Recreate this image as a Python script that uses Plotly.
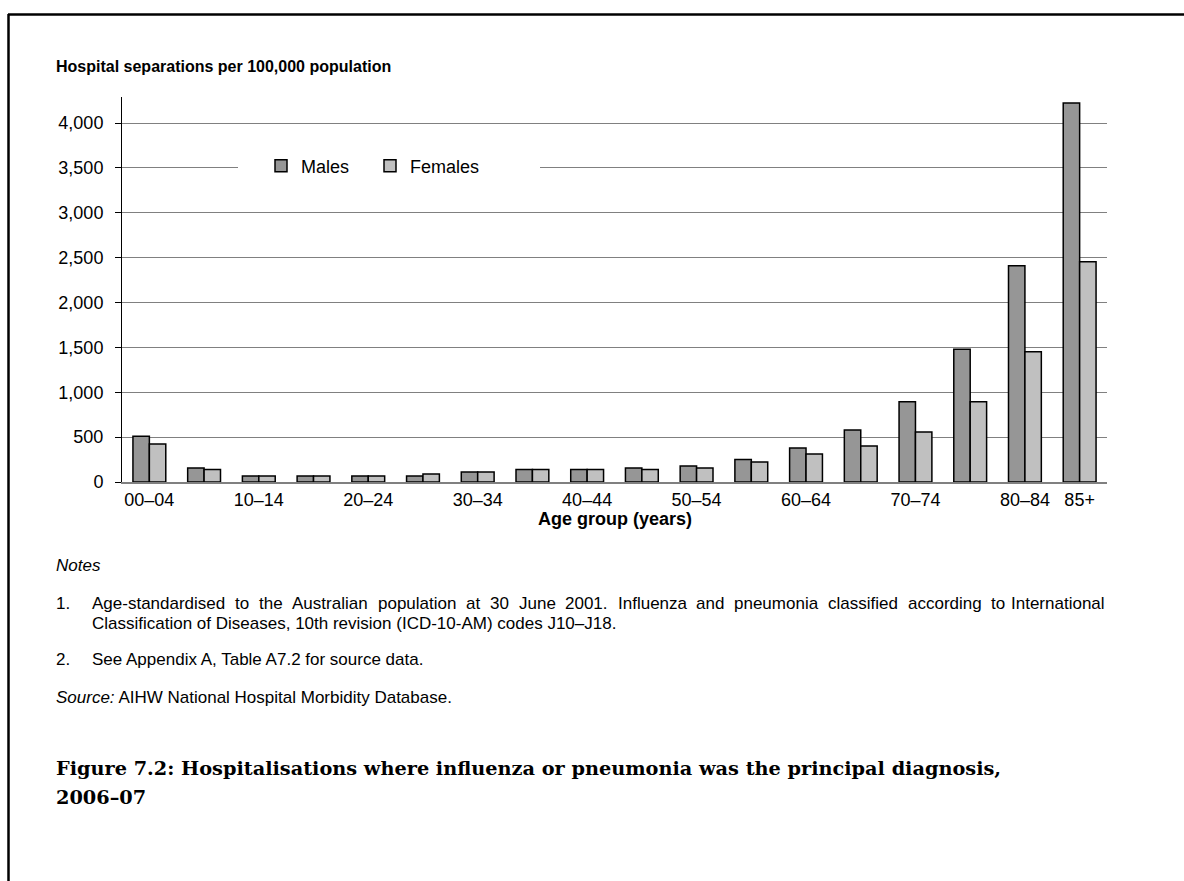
import plotly.graph_objects as go

categories = ["00–04", "05–09", "10–14", "15–19", "20–24", "25–29", "30–34", "35–39",
              "40–44", "45–49", "50–54", "55–59", "60–64", "65–69", "70–74", "75–79",
              "80–84", "85+"]
males = [510, 156, 67, 67, 67, 67, 112, 138, 138, 156, 178, 250, 379, 580, 893, 1478, 2411, 4223]
females = [424, 138, 67, 67, 67, 89, 112, 138, 138, 138, 156, 223, 312, 402, 558, 893, 1451, 2455]
tick_labels = ["00–04", "10–14", "20–24", "30–34", "40–44", "50–54", "60–64", "70–74", "80–84", "85+"]
tick_positions = ["00–04", "10–14", "20–24", "30–34", "40–44", "50–54", "60–64", "70–74", "80–84", "85+"]
y_ticks = [0, 500, 1000, 1500, 2000, 2500, 3000, 3500, 4000]

note1_line1 = ("Age-standardised to the Australian population at 30 June 2001. Influenza and "
               "pneumonia classified according to International")
note1_line2 = "Classification of Diseases, 10th revision (ICD-10-AM) codes J10–J18."
note2 = "See Appendix A, Table A7.2 for source data."
source_text = "AIHW National Hospital Morbidity Database."
caption_line1 = "Figure 7.2: Hospitalisations where influenza or pneumonia was the principal diagnosis,"
caption_line2 = "2006–07"

W, H = 1184, 881
L, R, T, B = 122, 1107, 97, 482  # plot area pixel bounds

def px(x):
    return (x - L) / (R - L)

def py(y):
    return (B - y) / (B - T)

FONT = "Liberation Sans, Arial, sans-serif"
SERIF = "DejaVu Serif, Liberation Serif, serif"
NOTE = 17

# Arial / Liberation Sans advance widths (per 1000 em) used to justify a text line
ARIAL = {' ': 278, '-': 333, '.': 278, ',': 278, '(': 333, ')': 333, '–': 556}
ARIAL.update({d: 556 for d in "0123456789"})
ARIAL.update(dict(zip("ABCDEFGHIJKLMNOPQRSTUVWXYZ",
                      [667, 667, 722, 722, 667, 611, 778, 722, 278, 500, 667, 556, 833,
                       722, 778, 667, 778, 722, 667, 611, 722, 667, 944, 667, 667, 611])))
ARIAL.update(dict(zip("abcdefghijklmnopqrstuvwxyz",
                      [556, 556, 500, 556, 556, 278, 556, 556, 222, 222, 500, 222, 833,
                       556, 556, 556, 556, 333, 500, 278, 556, 500, 722, 500, 500, 500])))

def text_width(s, size):
    return sum(ARIAL.get(c, 556) for c in s) * size / 1000.0

fig = go.Figure()
fig.add_trace(go.Bar(x=categories, y=males, name="Males",
                     marker=dict(color="#969696", line=dict(color="black", width=1.5))))
fig.add_trace(go.Bar(x=categories, y=females, name="Females",
                     marker=dict(color="#c0c0c0", line=dict(color="black", width=1.5))))

def note(text, x, y, size=NOTE, anchor="left"):
    return dict(text=text, x=px(x), y=py(y), xanchor=anchor, yanchor="middle",
                font=dict(size=size, color="black", family=FONT))

annotations = [
    dict(text="<b>Hospital separations per 100,000 population</b>", x=px(54), y=py(67),
         xanchor="left", yanchor="middle", font=dict(size=16, color="black", family=FONT)),
    dict(text="<b>Age group (years)</b>", x=0.5, y=py(519), xanchor="center", yanchor="middle",
         font=dict(size=18, color="black", family=FONT)),
    note("<i>Notes</i>", 54, 565),
    note("1.", 54, 603),
    note(note1_line2, 90, 623),
    note("2.", 54, 659),
    note(note2, 90, 659),
    note("<i>Source:</i> " + source_text, 54, 697),
    dict(text="<b>" + caption_line1 + "</b>", x=px(54), y=py(768), xanchor="left", yanchor="middle",
         font=dict(size=19.3, color="black", family=SERIF)),
    dict(text="<b>" + caption_line2 + "</b>", x=px(54), y=py(797), xanchor="left", yanchor="middle",
         font=dict(size=19.3, color="black", family=SERIF)),
]

# justified first line of note 1 (spans from x=90 to x=1107)
words = note1_line1.split(" ")
x_start, x_end = 90, 1107
natural = sum(text_width(w, NOTE) for w in words)
gap = (x_end - x_start - natural) / (len(words) - 1)
xpos = x_start
for i, w in enumerate(words):
    if i == len(words) - 1:
        annotations.append(note(w, x_end, 603, anchor="right"))
    else:
        annotations.append(note(w, xpos, 603))
    xpos += text_width(w, NOTE) + gap

for a in annotations:
    a.update(xref="paper", yref="paper", showarrow=False)

shapes = [
    # outer frame (top and left edges)
    dict(type="line", xref="paper", yref="paper", x0=px(8), x1=px(1184), y0=py(14.5), y1=py(14.5),
         line=dict(color="black", width=2.5)),
    dict(type="line", xref="paper", yref="paper", x0=px(8.5), x1=px(8.5), y0=py(14), y1=py(885),
         line=dict(color="black", width=2.5)),
    # white legend background interrupting the gridline
    dict(type="rect", xref="paper", yref="paper", x0=px(238), x1=px(540), y0=py(158), y1=py(176),
         fillcolor="white", line=dict(width=0), layer="above"),
]

fig.update_layout(
    width=W, height=H,
    margin=dict(l=L, r=W - R, t=T, b=H - B, pad=0),
    paper_bgcolor="white", plot_bgcolor="white",
    barmode="group", bargap=0.4, bargroupgap=0,
    font=dict(family=FONT, color="black", size=18),
    showlegend=True,
    legend=dict(orientation="h", x=px(261), y=py(166), xanchor="left", yanchor="middle",
                bgcolor="rgba(0,0,0,0)", borderwidth=0, font=dict(size=18, family=FONT),
                entrywidth=64, entrywidthmode="pixels", itemwidth=30, traceorder="normal"),
    xaxis=dict(type="category", categoryorder="array", categoryarray=categories,
               tickmode="array", tickvals=tick_positions, ticktext=tick_labels,
               showline=True, linecolor="#808080", linewidth=2, ticks="",
               showgrid=False, tickfont=dict(size=18, family=FONT), ticklabelstandoff=0),
    yaxis=dict(range=[0, 4290], tickmode="array", tickvals=y_ticks,
               ticktext=[f"{v:,}" for v in y_ticks],
               showline=True, linecolor="black", linewidth=1,
               ticks="outside", ticklen=6, tickcolor="black", tickwidth=1,
               showgrid=True, gridcolor="#808080", gridwidth=1, zeroline=False,
               tickfont=dict(size=18, family=FONT), ticklabelstandoff=8),
    annotations=annotations,
    shapes=shapes,
)

fig.write_html("out.html", config={"displayModeBar": False},
               post_script="document.body.style.margin='0';")
